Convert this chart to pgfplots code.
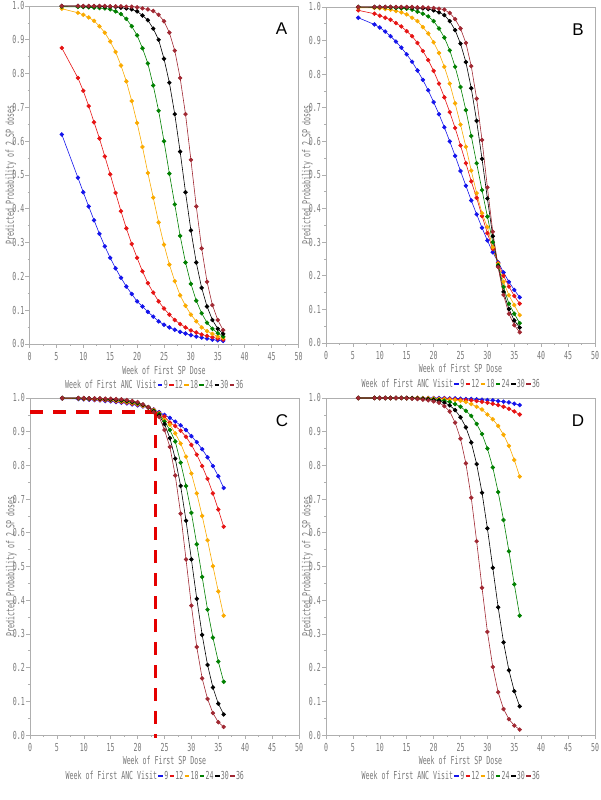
\documentclass[border=0pt]{standalone}
\usepackage{pgfplots}
\usepackage{pgfplotstable}
\pgfplotsset{compat=1.18}
\usepackage{fontspec}
\setmainfont{Liberation Sans}
\newfontfamily\ticksfontfam[FakeStretch=0.6]{DejaVu Sans Mono}
\newcommand\tf{\ticksfontfam\fontsize{11}{12}\selectfont}
\newcommand\lf{\fontsize{17}{17}\selectfont}

\definecolor{cblue}{RGB}{20,20,235}
\definecolor{cred}{RGB}{230,20,20}
\definecolor{corange}{RGB}{250,170,0}
\definecolor{cgreen}{RGB}{0,128,0}
\definecolor{cblack}{RGB}{0,0,0}
\definecolor{cbrown}{RGB}{160,40,50}
\definecolor{framegray}{RGB}{175,175,175}
\definecolor{labgray}{RGB}{120,120,120}

% columns: x, visit 9, 12, 18, 24, 30, 36
\pgfplotstableread{
x  a     b     c     d     e     f
6  0.620 0.876 0.992 0.998 1.000 1.000
9  0.492 0.787 0.980 0.997 1.000 1.000
10 0.449 0.749 0.974 0.997 0.999 1.000
11 0.407 0.704 0.966 0.996 0.999 1.000
12 0.366 0.656 0.956 0.995 0.999 1.000
13 0.326 0.608 0.940 0.994 0.999 1.000
14 0.289 0.555 0.921 0.993 0.998 1.000
15 0.255 0.502 0.895 0.990 0.998 0.999
16 0.224 0.447 0.864 0.984 0.997 0.999
17 0.196 0.393 0.824 0.976 0.995 0.999
18 0.170 0.342 0.777 0.962 0.993 0.998
19 0.148 0.296 0.719 0.940 0.990 0.998
20 0.126 0.255 0.654 0.913 0.984 0.996
21 0.111 0.215 0.583 0.875 0.972 0.993
22 0.095 0.180 0.506 0.830 0.958 0.990
23 0.081 0.152 0.433 0.765 0.933 0.985
24 0.067 0.126 0.360 0.690 0.900 0.974
25 0.057 0.105 0.294 0.600 0.844 0.955
26 0.049 0.087 0.235 0.504 0.773 0.921
27 0.042 0.071 0.186 0.413 0.680 0.868
28 0.036 0.059 0.144 0.320 0.569 0.787
29 0.031 0.049 0.113 0.241 0.449 0.680
30 0.026 0.040 0.087 0.178 0.336 0.545
31 0.022 0.034 0.067 0.128 0.241 0.407
32 0.019 0.028 0.049 0.091 0.166 0.283
33 0.016 0.024 0.038 0.063 0.111 0.184
34 0.013 0.020 0.030 0.045 0.071 0.115
35 0.011 0.016 0.022 0.032 0.045 0.071
36 0.009 0.013 0.018 0.022 0.030 0.041
}\tabA

\pgfplotstableread{
x  a     b     c     d     e     f
6  0.968 0.990 0.998 1.000 1.000 1.000
9  0.948 0.980 0.997 0.999 1.000 1.000
10 0.939 0.974 0.996 0.999 1.000 1.000
11 0.927 0.968 0.994 0.999 1.000 1.000
12 0.913 0.962 0.992 0.998 1.000 1.000
13 0.897 0.952 0.988 0.997 0.999 1.000
14 0.879 0.942 0.984 0.996 0.999 1.000
15 0.859 0.928 0.978 0.995 0.999 1.000
16 0.837 0.913 0.968 0.992 0.998 1.000
17 0.811 0.893 0.958 0.986 0.997 0.999
18 0.783 0.869 0.940 0.980 0.996 0.999
19 0.752 0.842 0.921 0.972 0.994 0.998
20 0.717 0.810 0.895 0.958 0.990 0.997
21 0.681 0.772 0.863 0.936 0.984 0.995
22 0.642 0.731 0.822 0.909 0.976 0.992
23 0.600 0.687 0.772 0.871 0.958 0.982
24 0.557 0.640 0.713 0.822 0.931 0.964
25 0.512 0.588 0.650 0.762 0.891 0.936
26 0.468 0.535 0.584 0.693 0.836 0.893
27 0.424 0.481 0.513 0.616 0.758 0.824
28 0.383 0.432 0.446 0.535 0.661 0.727
29 0.343 0.378 0.386 0.455 0.548 0.604
30 0.305 0.327 0.345 0.376 0.430 0.463
31 0.270 0.280 0.285 0.300 0.318 0.331
32 0.240 0.238 0.236 0.232 0.228 0.226
33 0.210 0.200 0.182 0.167 0.152 0.143
34 0.182 0.168 0.142 0.117 0.101 0.087
35 0.158 0.140 0.113 0.087 0.067 0.053
36 0.136 0.117 0.083 0.059 0.046 0.032
}\tabB

\pgfplotstableread{
x  a     b     c     d     e     f
6  0.998 0.999 0.999 1.000 1.000 1.000
9  0.997 0.998 0.999 0.999 1.000 1.000
10 0.996 0.997 0.998 0.999 0.999 1.000
11 0.995 0.996 0.998 0.998 0.999 0.999
12 0.994 0.995 0.997 0.998 0.998 0.999
13 0.993 0.994 0.996 0.997 0.998 0.999
14 0.991 0.993 0.995 0.996 0.997 0.998
15 0.990 0.992 0.994 0.995 0.996 0.998
16 0.988 0.990 0.992 0.994 0.995 0.997
17 0.986 0.988 0.990 0.992 0.994 0.996
18 0.984 0.986 0.988 0.990 0.992 0.994
19 0.981 0.983 0.985 0.987 0.989 0.991
20 0.978 0.980 0.982 0.984 0.986 0.988
21 0.975 0.976 0.977 0.979 0.980 0.981
22 0.971 0.971 0.972 0.972 0.973 0.973
23 0.966 0.965 0.964 0.962 0.960 0.958
24 0.958 0.956 0.954 0.952 0.948 0.944
25 0.950 0.945 0.935 0.930 0.923 0.905
26 0.941 0.927 0.921 0.905 0.881 0.855
27 0.930 0.917 0.895 0.871 0.820 0.770
28 0.919 0.903 0.865 0.808 0.739 0.657
29 0.905 0.885 0.826 0.739 0.636 0.521
30 0.887 0.861 0.776 0.659 0.521 0.384
31 0.869 0.832 0.717 0.566 0.404 0.261
32 0.848 0.798 0.650 0.469 0.297 0.168
33 0.824 0.760 0.578 0.372 0.208 0.107
34 0.798 0.717 0.501 0.289 0.141 0.065
35 0.768 0.669 0.426 0.218 0.093 0.038
36 0.733 0.618 0.354 0.158 0.061 0.024
}\tabC

\pgfplotstableread{
x  a     b     c     d     e     f
6  1.000 1.000 1.000 1.000 1.000 1.000
9  1.000 1.000 1.000 1.000 1.000 1.000
10 1.000 1.000 1.000 1.000 1.000 1.000
11 1.000 1.000 1.000 1.000 1.000 1.000
12 1.000 1.000 1.000 1.000 1.000 1.000
13 1.000 1.000 1.000 1.000 1.000 1.000
14 1.000 1.000 1.000 1.000 1.000 1.000
15 1.000 1.000 1.000 0.999 1.000 0.999
16 1.000 1.000 1.000 0.999 0.999 0.998
17 1.000 1.000 1.000 0.999 0.998 0.997
18 1.000 0.999 0.999 0.998 0.997 0.995
19 1.000 0.999 0.999 0.997 0.996 0.993
20 1.000 0.999 0.998 0.996 0.994 0.990
21 1.000 0.998 0.997 0.994 0.992 0.986
22 1.000 0.998 0.996 0.992 0.986 0.976
23 0.999 0.997 0.995 0.988 0.978 0.960
24 0.999 0.996 0.994 0.982 0.964 0.927
25 0.998 0.995 0.992 0.974 0.943 0.879
26 0.997 0.994 0.988 0.962 0.913 0.806
27 0.997 0.993 0.982 0.947 0.868 0.704
28 0.996 0.991 0.974 0.923 0.804 0.575
29 0.995 0.989 0.966 0.893 0.719 0.437
30 0.994 0.986 0.951 0.850 0.613 0.306
31 0.993 0.983 0.937 0.794 0.496 0.202
32 0.991 0.979 0.917 0.721 0.379 0.127
33 0.989 0.974 0.891 0.638 0.275 0.077
34 0.987 0.968 0.858 0.545 0.192 0.047
35 0.983 0.960 0.816 0.447 0.130 0.028
36 0.979 0.951 0.767 0.354 0.085 0.016
}\tabD

\pgfplotsset{
  panel/.style={
    scale only axis, width=269pt,
    xmin=0, xmax=50, ymin=0, ymax=1,
    xtick={0,5,10,15,20,25,30,35,40,45,50},
    ytick={0,0.1,0.2,0.3,0.4,0.5,0.6,0.7,0.8,0.9,1.0},
    minor x tick num=1, minor y tick num=1,
    xtick pos=bottom, ytick pos=left,
    tick align=outside, major tick length=4pt, minor tick length=2pt,
    axis line style={draw=framegray, line width=0.8pt},
    every tick/.style={draw=framegray, line width=0.6pt},
    /pgf/number format/assume math mode=true,
    ticklabel style={font=\tf, text=labgray},
    xticklabel style={inner sep=1pt, yshift=-3pt},
    yticklabel style={inner sep=1pt, /pgf/number format/.cd, fixed, fixed zerofill, precision=1},
    xlabel={Week of First SP Dose},
    ylabel={Predicted Probability of 2 SP doses},
    label style={font=\tf, text=labgray},
    xlabel style={at={(axis description cs:0.5,-0.089)}, anchor=base},
    ylabel style={at={(axis description cs:-0.058,0.5)}, anchor=base},
    legend image code/.code={\draw[#1, line width=1.5pt] (0pt,0pt) -- (4.5pt,0pt);},
    legend columns=-1,
    legend style={draw=none, fill=none, at={(0.464,-0.122)}, anchor=center,
      font=\tf, text=labgray, inner sep=0pt,
      nodes={inner sep=0.6pt},
      /tikz/every even column/.append style={column sep=0pt}},
    every axis plot/.append style={line width=0.6pt, mark=*, mark size=1.9pt},
  },
}

\newcommand\series[1]{%
  \addlegendimage{empty legend}\addlegendentry{Week of First ANC Visit}
  \addplot[cblue] table[x=x,y=a]{#1}; \addlegendentry{ 9}
  \addplot[cred] table[x=x,y=b]{#1}; \addlegendentry{12}
  \addplot[corange] table[x=x,y=c]{#1}; \addlegendentry{18}
  \addplot[cgreen] table[x=x,y=d]{#1}; \addlegendentry{24}
  \addplot[cblack] table[x=x,y=e]{#1}; \addlegendentry{30}
  \addplot[cbrown] table[x=x,y=f]{#1}; \addlegendentry{36}
}

\begin{document}
\begin{tikzpicture}
\useasboundingbox (0pt,0pt) rectangle (600pt,800pt);

\begin{axis}[panel, height=338pt, at={(29.5pt,456pt)}, anchor=south west]
\series{\tabA}
\node[font=\lf] at (rel axis cs:0.937,0.933) {A};
\end{axis}

\begin{axis}[panel, height=336pt, at={(326pt,457pt)}, anchor=south west]
\series{\tabB}
\node[font=\lf] at (rel axis cs:0.937,0.933) {B};
\end{axis}

\begin{axis}[panel, height=337pt, at={(30pt,65pt)}, anchor=south west, clip=false]
\series{\tabC}
\addplot[forget plot, no marks, color=red!90!black, line width=3.4pt, dash pattern=on 13pt off 10pt]
  coordinates {(0,0.958) (23.3,0.958)};
\addplot[forget plot, no marks, color=red!90!black, line width=3.4pt, dash pattern=on 13pt off 10pt]
  coordinates {(23.3,0.958) (23.3,-0.01)};
\node[font=\lf] at (rel axis cs:0.937,0.933) {C};
\end{axis}

\begin{axis}[panel, height=337pt, at={(326pt,65pt)}, anchor=south west]
\series{\tabD}
\node[font=\lf] at (rel axis cs:0.937,0.933) {D};
\end{axis}
\end{tikzpicture}
\end{document}
